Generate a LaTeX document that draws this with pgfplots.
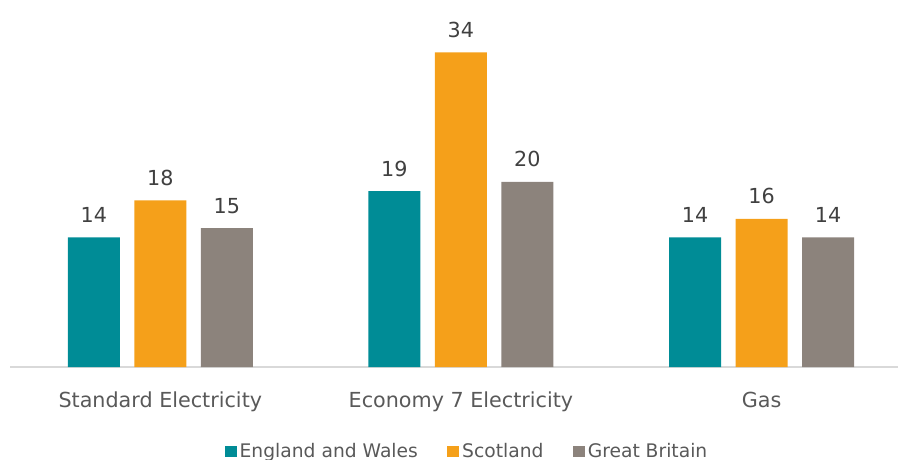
\documentclass[border=0pt]{standalone}
\usepackage{pgfplots}
\pgfplotsset{compat=1.18}
\usepackage{fontspec}
\setmainfont{DejaVu Sans}
\definecolor{cTeal}{RGB}{0,140,150}
\definecolor{cOrange}{RGB}{245,160,26}
\definecolor{cGray}{RGB}{140,131,124}
\definecolor{cText}{RGB}{89,89,89}
\definecolor{cLab}{RGB}{64,64,64}
\definecolor{cLine}{RGB}{217,217,217}
\begin{document}
\begin{tikzpicture}
\begin{axis}[
  at={(10pt,92pt)}, anchor=south west,
  scale only axis, width=888pt, height=347pt,
  xmin=-0.5, xmax=2.454, ymin=0, ymax=37.49,
  ybar=14.5pt, bar width=52pt,
  axis x line*=bottom, axis y line=none,
  axis line style={draw=cLine, line width=1.5pt},
  xtick={0,1,2}, xticklabels={Standard Electricity, Economy 7 Electricity, Gas},
  major tick length=0pt,
  /pgf/number format/assume math mode=true,
  xticklabel style={font=\fontsize{20.7}{24}\selectfont, text=cText, anchor=base, yshift=-40pt},
  nodes near coords={\pgfmathprintnumber[assume math mode=true]{\pgfplotspointmeta}},
  nodes near coords style={font=\fontsize{20.7}{24}\selectfont, text=cLab, anchor=base, yshift=15pt},
  legend columns=3,
  legend style={draw=none, fill=none, font=\fontsize{18.7}{21}\selectfont, text=cText,
    at={(axis description cs:0.5,0)}, anchor=north, yshift=-72pt, xshift=13pt,
    /tikz/every even column/.append style={column sep=27.3pt}},
  legend image code/.code={\fill[#1] (0pt,-5.5pt) rectangle (12pt,5.5pt); \path (13pt,0pt);},
]
\addplot[fill=cTeal, draw=none] coordinates {(0,14) (1,19) (2,14)};
\addplot[fill=cOrange, draw=none] coordinates {(0,18) (1,34) (2,16)};
\addplot[fill=cGray, draw=none] coordinates {(0,15) (1,20) (2,14)};
\legend{England and Wales, Scotland, Great Britain}
\end{axis}
\pgfresetboundingbox
\useasboundingbox (0,0) rectangle (898pt,459pt);
\end{tikzpicture}
\end{document}
